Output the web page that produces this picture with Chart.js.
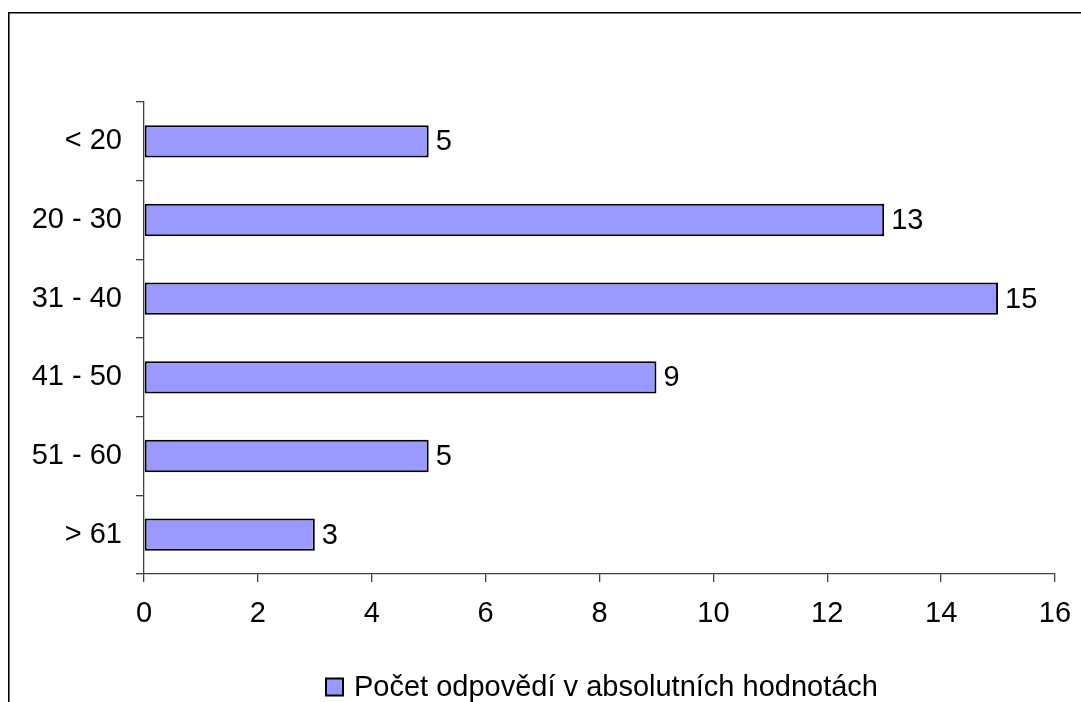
<!DOCTYPE html>
<html>
<head>
<meta charset="utf-8">
<script src="https://cdn.jsdelivr.net/npm/chart.js@4.4.1/dist/chart.umd.min.js"></script>
<style>
  html, body { margin: 0; padding: 0; background: #fff; }
  #wrap { width: 1081px; height: 702px; }
</style>
</head>
<body>
<div id="wrap"><canvas id="c" width="1081" height="702"></canvas></div>
<script>
// Age groups and number of responses
const categories = ['< 20', '20 - 30', '31 - 40', '41 - 50', '51 - 60', '> 61'];
const counts = [5, 13, 15, 9, 5, 3];
const seriesLabel = 'Počet odpovědí v absolutních hodnotách';
const xTicks = [0, 2, 4, 6, 8, 10, 12, 14, 16];

const FONT = 'Liberation Sans, Arial, sans-serif';
const FONT_SIZE = 29;
const AXIS_COLOR = '#404040';
const BAR_FILL = '#9999FF';

// Thin frame along the left and top edges
const framePlugin = {
  id: 'frame',
  beforeDraw(chart) {
    const ctx = chart.ctx;
    ctx.save();
    ctx.fillStyle = '#fff';
    ctx.fillRect(0, 0, chart.width, chart.height);
    ctx.strokeStyle = '#000';
    ctx.lineWidth = 1.6;
    ctx.beginPath();
    ctx.moveTo(8.8, chart.height);
    ctx.lineTo(8.8, 12.8);
    ctx.lineTo(chart.width, 12.8);
    ctx.stroke();
    ctx.restore();
  }
};

// Value printed just past the end of each bar
const valueLabelPlugin = {
  id: 'valueLabels',
  afterDatasetsDraw(chart) {
    const ctx = chart.ctx;
    const meta = chart.getDatasetMeta(0);
    const data = chart.data.datasets[0].data;
    ctx.save();
    ctx.font = FONT_SIZE + 'px ' + FONT;
    ctx.fillStyle = '#000';
    ctx.textAlign = 'left';
    ctx.textBaseline = 'middle';
    meta.data.forEach((bar, i) => {
      ctx.fillText(String(data[i]), bar.x + 7, bar.y + 1);
    });
    ctx.restore();
  }
};

// Legend: square swatch plus series name, centred under the plot
const legendPlugin = {
  id: 'bottomLegend',
  afterDraw(chart) {
    const ctx = chart.ctx;
    const ds = chart.data.datasets[0];
    const area = chart.chartArea;
    ctx.save();
    ctx.font = FONT_SIZE + 'px ' + FONT;
    const box = 17;
    const gap = 11;
    const tw = ctx.measureText(ds.label).width;
    const total = box + gap + tw;
    const cx = (area.left + area.right) / 2 + 2;
    const x0 = Math.round(cx - total / 2);
    const cy = 687;
    ctx.fillStyle = ds.backgroundColor;
    ctx.fillRect(x0, cy - box / 2, box, box);
    ctx.strokeStyle = '#000';
    ctx.lineWidth = 2;
    ctx.strokeRect(x0, cy - box / 2, box, box);
    ctx.fillStyle = '#000';
    ctx.textAlign = 'left';
    ctx.textBaseline = 'middle';
    ctx.fillText(ds.label, x0 + box + gap, cy + 1);
    ctx.restore();
  }
};

new Chart(document.getElementById('c'), {
  type: 'bar',
  data: {
    labels: categories,
    datasets: [{
      label: seriesLabel,
      data: counts,
      backgroundColor: BAR_FILL,
      borderColor: '#000',
      borderWidth: 2,
      borderSkipped: false,
      barPercentage: 0.41,
      categoryPercentage: 1.0
    }]
  },
  options: {
    indexAxis: 'y',
    responsive: false,
    animation: false,
    devicePixelRatio: 1,
    layout: { padding: { top: 102, right: 26, left: 0, bottom: 0 } },
    plugins: {
      legend: { display: false },
      tooltip: { enabled: false }
    },
    scales: {
      x: {
        type: 'linear',
        min: 0,
        max: 16,
        afterBuildTicks(scale) {
          scale.ticks = xTicks.map(v => ({ value: v }));
        },
        afterFit(scale) {
          scale.height = 128;
          scale.paddingLeft = 0;
          scale.paddingRight = 0;
        },
        grid: {
          drawOnChartArea: false,
          drawTicks: true,
          tickLength: 8,
          color: AXIS_COLOR,
          lineWidth: 1.3
        },
        border: { display: true, color: AXIS_COLOR, width: 1.3 },
        ticks: {
          color: '#000',
          font: { family: FONT, size: FONT_SIZE },
          padding: 15,
          maxRotation: 0
        }
      },
      y: {
        type: 'category',
        offset: true,
        afterFit(scale) { scale.width = 144; },
        grid: {
          offset: true,
          drawOnChartArea: false,
          drawTicks: true,
          tickLength: 8,
          color: AXIS_COLOR,
          lineWidth: 1.3
        },
        border: { display: true, color: AXIS_COLOR, width: 1.3 },
        ticks: {
          color: '#000',
          font: { family: FONT, size: FONT_SIZE },
          padding: 14
        }
      }
    }
  },
  plugins: [framePlugin, valueLabelPlugin, legendPlugin]
});
</script>
</body>
</html>
